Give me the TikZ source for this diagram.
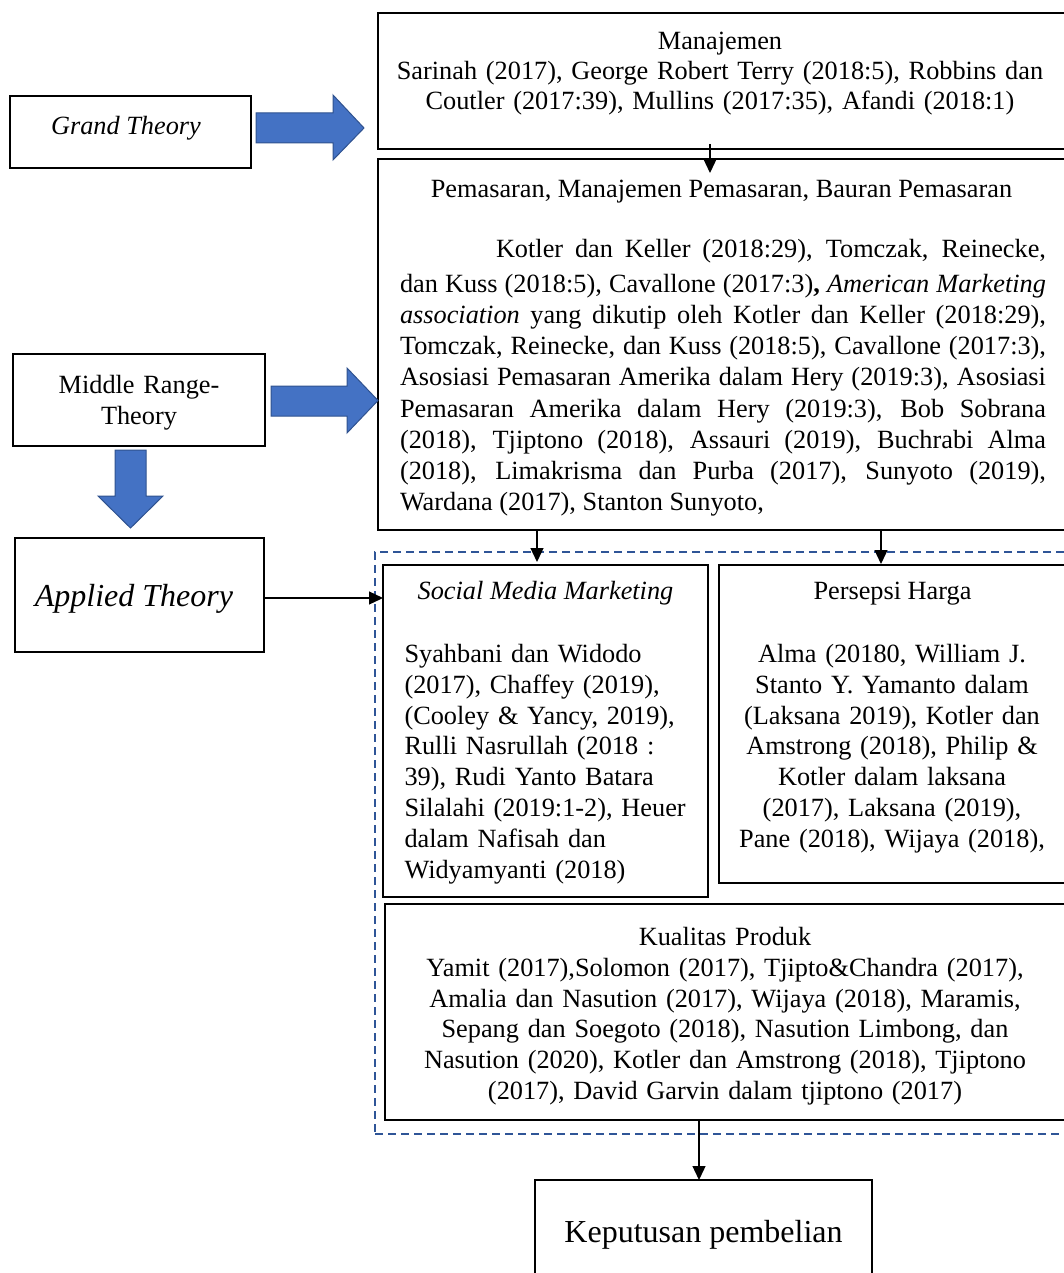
\documentclass[tikz,border=0pt]{standalone}
\usepackage{fontspec}
\setmainfont{Liberation Serif}
\usetikzlibrary{arrows.meta,calc}
\definecolor{blockblue}{HTML}{4472C4}
\definecolor{blockedge}{HTML}{2F528F}
\definecolor{groupblue}{HTML}{2F5597}
\begin{document}
\begin{tikzpicture}[x=1pt,y=-1pt,
  box/.style={draw=black, line width=2.4pt, inner sep=0pt, outer sep=0pt, rectangle},
  txt/.style={font=\fontsize{26.3}{30.8}\selectfont, inner sep=0pt, outer sep=0pt},
  bigtxt/.style={font=\fontsize{32}{37}\selectfont, inner sep=0pt, outer sep=0pt},
  conn/.style={line width=1.3pt, -{Triangle[width=13pt,length=14pt]}},
  blockarrow/.style={fill=blockblue, draw=blockedge, line width=1pt},
  groupbox/.style={draw=groupblue, line width=2pt, dash pattern=on 8pt off 5pt, inner sep=0pt, outer sep=0pt, rectangle}
]
\useasboundingbox (0,0) rectangle (1063,1273);

% dashed group
\node[groupbox, minimum width=697pt, minimum height=582pt] (grp) at (723.5,843) {};

% boxes
\node[box, minimum width=241pt, minimum height=72pt] (gt) at (130.5,132) {};
\node[box, minimum width=688pt, minimum height=136pt] (man) at (722,81) {};
\node[box, minimum width=688pt, minimum height=371pt] (pem) at (722,344.5) {};
\node[box, minimum width=252pt, minimum height=92pt] (mr) at (139,400) {};
\node[box, minimum width=249pt, minimum height=114pt] (at) at (139.5,595) {};
\node[box, minimum width=325pt, minimum height=332pt] (sm) at (545.5,731) {};
\node[box, minimum width=347pt, minimum height=318pt] (ph) at (892.5,724) {};
\node[box, minimum width=681pt, minimum height=216pt] (kq) at (725.5,1012) {};
\node[box, minimum width=337pt, minimum height=120pt] (kp) at (703.5,1240) {};

% texts
\node[txt, anchor=base] (gtt) at (126,134.5) {\textit{Grand Theory}};
\node[txt, font=\fontsize{26.3}{30}\selectfont, anchor=north, text width=680pt, align=center] (mant) at (720,28.5)
  {\strut Manajemen\\ Sarinah (2017), George Robert Terry (2018:5), Robbins dan\\ Coutler (2017:39), Mullins (2017:35), Afandi (2018:1)};
\node[txt, anchor=base] (pemh) at (721.5,197.5) {Pemasaran, Manajemen Pemasaran, Bauran Pemasaran};
\node[txt, font=\fontsize{26.3}{31.14}\selectfont, anchor=north west, text width=646pt, align=justify] (pemt) at (400,235.7)
  {\sloppy\strut\hspace*{96pt}Kotler dan Keller (2018:29), Tomczak, Reinecke,\vadjust{\kern3.9pt}\linebreak
  dan Kuss (2018:5), Cavallone (2017:3)\textbf{,} \textit{American Marketing}\linebreak
  \textit{association} yang dikutip oleh Kotler dan Keller (2018:29),\linebreak
  Tomczak, Reinecke, dan Kuss (2018:5), Cavallone (2017:3),\linebreak
  Asosiasi Pemasaran Amerika dalam Hery (2019:3), Asosiasi\linebreak
  Pemasaran Amerika dalam Hery (2019:3), Bob Sobrana\linebreak
  (2018), Tjiptono (2018), Assauri (2019), Buchrabi Alma\linebreak
  (2018), Limakrisma dan Purba (2017), Sunyoto (2019),\linebreak
  Wardana (2017), Stanton Sunyoto,};
\node[txt, anchor=north, text width=240pt, align=center] (mrt) at (139,371.9)
  {\strut Middle Range-\\ Theory};
\node[bigtxt, anchor=base] (att) at (134,606) {\textit{Applied Theory}};
\node[txt, anchor=base] (smh) at (545.5,599.5) {\textit{Social Media Marketing}};
\node[txt, anchor=north west, text width=300pt, align=left] (smt) at (404.5,640.9)
  {\strut Syahbani dan Widodo\\ (2017), Chaffey (2019),\\ (Cooley \& Yancy, 2019),\\ Rulli Nasrullah (2018 :\\ 39), Rudi Yanto Batara\\ Silalahi (2019:1-2), Heuer\\ dalam Nafisah dan\\ Widyamyanti (2018)};
\node[txt, anchor=base] (phh) at (892.5,599.5) {Persepsi Harga};
\node[txt, anchor=north, text width=330pt, align=center] (pht) at (892,640.9)
  {\strut Alma (20180, William J.\\ Stanto Y. Yamanto dalam\\ (Laksana 2019), Kotler dan\\ Amstrong (2018), Philip \&\\ Kotler dalam laksana\\ (2017), Laksana (2019),\\ Pane (2018), Wijaya (2018),};
\node[txt, anchor=north, text width=670pt, align=center] (kqt) at (725,923.9)
  {\strut Kualitas Produk\\ Yamit (2017),Solomon (2017), Tjipto\&Chandra (2017),\\ Amalia dan Nasution (2017), Wijaya (2018), Maramis,\\ Sepang dan Soegoto (2018), Nasution Limbong, dan\\ Nasution (2020), Kotler dan Amstrong (2018), Tjiptono\\ (2017), David Garvin dalam tjiptono (2017)};
\node[bigtxt, anchor=base] (kpt) at (703.5,1242) {Keputusan pembelian};

% block arrows
\draw[blockarrow] (256,113) -- (333,113) -- (333,95) -- (364,128) -- (333,160) -- (333,143) -- (256,143) -- cycle;
\draw[blockarrow] (271,386) -- (347,386) -- (347,368) -- (378,400.5) -- (347,433) -- (347,416) -- (271,416) -- cycle;
\draw[blockarrow] (115,450) -- (146,450) -- (146,496) -- (163,496) -- (130.5,528) -- (98,496) -- (115,496) -- cycle;

% connectors
\draw[conn] ([xshift=-12pt,yshift=5pt]man.south) -- ([xshift=-12pt,yshift=-14pt]pem.north);
\draw[conn] ($(pem.south -| sm.north)+(-8.5,0)$) -- ($(sm.north)+(-8.5,-3)$);
\draw[conn] ($(pem.south -| ph.north)+(-11.5,0)$) -- ($(ph.north)+(-11.5,-1)$);
\draw[conn] ($(at.east)+(0,3)$) -- ($(at.east -| sm.west)+(0,3)$);
\draw[conn] ($(kq.south -| kp.north)+(-4.5,0)$) -- ($(kp.north)+(-4.5,0)$);
\end{tikzpicture}
\end{document}
